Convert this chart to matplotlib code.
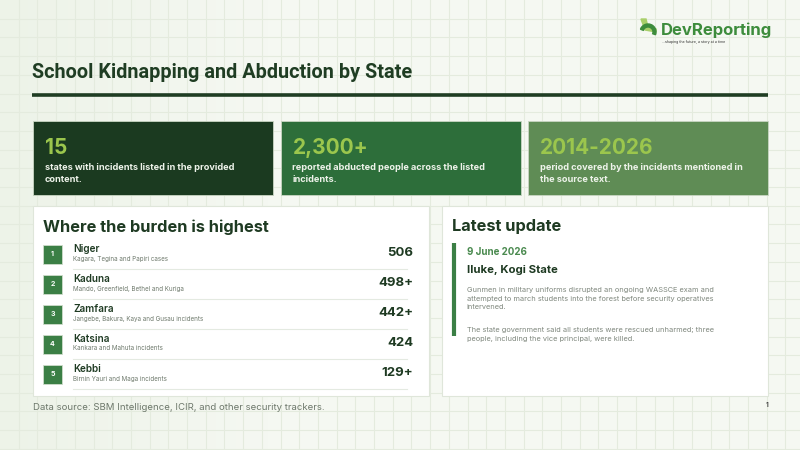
import matplotlib.pyplot as plt
import matplotlib.patches as patches
from matplotlib import font_manager
import numpy as np

# ---- data ----
stat_values = ["15", "2,300+", "2014-2026"]
stat_labels = ["states with incidents listed in the provided\ncontent.",
               "reported abducted people across the listed\nincidents.",
               "period covered by the incidents mentioned in\nthe source text."]
stat_colors = ["#1b3a20", "#2d6e3a", "#5f8c55"]

states = ["Niger", "Kaduna", "Zamfara", "Katsina", "Kebbi"]
state_notes = ["Kagara, Tegina and Papiri cases",
               "Mando, Greenfield, Bethel and Kuriga",
               "Jangebe, Bakura, Kaya and Gusau incidents",
               "Kankara and Mahuta incidents",
               "Birnin Yauri and Maga incidents"]
state_counts = ["506", "498+", "442+", "424", "129+"]

update_date = "9 June 2026"
update_place = "Iluke, Kogi State"
update_paras = ["Gunmen in military uniforms disrupted an ongoing WASSCE exam and\n"
                "attempted to march students into the forest before security operatives\n"
                "intervened.",
                "The state government said all students were rescued unharmed; three\n"
                "people, including the vice principal, were killed."]

title = "School Kidnapping and Abduction by State"
source = "Data source: SBM Intelligence, ICIR, and other security trackers."

names = {f.name for f in font_manager.fontManager.ttflist}
body = "Inter" if "Inter" in names else "DejaVu Sans"
narrow = "Liberation Sans Narrow" if "Liberation Sans Narrow" in names else "Roboto"

dark = "#1e3a22"
green = "#3b7f45"

fig = plt.figure(figsize=(8, 4.5), dpi=100)
ax = fig.add_axes([0, 0, 1, 1])
ax.set_xlim(0, 800)
ax.set_ylim(450, 0)
ax.axis("off")

# background gradient + grid
grad = np.linspace(0, 1, 200)
bg = np.zeros((2, 200, 3))
c0 = np.array([0xed, 0xf3, 0xe8]) / 255
c1 = np.array([0xf5, 0xf8, 0xf2]) / 255
for i, g in enumerate(grad):
    t = min(1, g * 3)
    bg[:, i, :] = c0 * (1 - t) + c1 * t
ax.imshow(bg, extent=[0, 800, 450, 0], aspect="auto", zorder=0)
for k in range(1, 43):
    ax.axvline(k * 18.7, color="#e4ebde", lw=0.8, zorder=1)
for k in range(1, 25):
    ax.axhline(k * 18.7, color="#e4ebde", lw=0.8, zorder=1)

# logo
ax.add_patch(patches.Polygon([[641, 19], [646, 19], [648, 27], [656, 29], [656, 32], [645, 30]],
                             closed=True, color="#a9cf6a", zorder=3))
ax.add_patch(patches.Wedge((648, 32), 8, 200, 20, width=3, color="#3d8c3c", zorder=3))
ax.text(661, 30, "DevReporting", fontsize=12, fontweight="bold", color="#3d8c3c",
        family=body, va="center", ha="left", zorder=4)
ax.text(662, 42.5, "...shaping the future, a story at a time", fontsize=2.6, color="#333333",
        family=body, va="center", ha="left", zorder=4)

# title
ax.text(32, 73, title, fontsize=14.3, fontweight="bold", color="#1f3d23",
        family=narrow, va="center", ha="left", zorder=4)
ax.plot([32, 768], [95, 95], color="#1f3d23", lw=2.6, solid_capstyle="butt", zorder=4)

# stat cards
card_x = [33, 280.5, 528]
for x0, val, lab, col in zip(card_x, stat_values, stat_labels, stat_colors):
    ax.add_patch(patches.Rectangle((x0, 120.5), 240, 74.5, facecolor=col,
                                   edgecolor="#c9d6c3", lw=0.6, zorder=3))
    ax.text(x0 + 12, 148, val, fontsize=15, fontweight="bold", color="#9bc64d",
            family=body, va="center", ha="left", zorder=4)
    ax.text(x0 + 12, 173.5, lab, fontsize=6.6, fontweight="bold", color="#eef3ea",
            family=body, va="center", ha="left", linespacing=1.4, zorder=4)

# panels
for x0, w in [(33, 396), (442, 326)]:
    ax.add_patch(patches.Rectangle((x0, 206), w, 189.5, facecolor="white",
                                   edgecolor="#dfe6da", lw=0.8, zorder=3))

ax.text(43, 227, "Where the burden is highest", fontsize=11.8, fontweight="bold",
        color=dark, family=body, va="center", ha="left", zorder=4)

row_y = 254
for i, (st, note, cnt) in enumerate(zip(states, state_notes, state_counts)):
    yc = row_y + i * 30
    ax.add_patch(patches.Rectangle((43, yc - 9.5), 19, 19, facecolor=green,
                                   edgecolor="#cfdccb", lw=0.6, zorder=4))
    ax.text(52.5, yc, str(i + 1), fontsize=5, fontweight="bold", color="white",
            family=body, va="center", ha="center", zorder=5)
    ax.text(73, yc - 5, st, fontsize=7.2, fontweight="semibold", color=dark,
            family=body, va="center", ha="left", zorder=5)
    ax.text(73, yc + 4.5, note, fontsize=4.5, color="#6f7a6d",
            family=body, va="center", ha="left", zorder=5)
    ax.text(413, yc - 1.5, cnt, fontsize=9.5, fontweight="bold", color=dark,
            family=body, va="center", ha="right", zorder=5)
    ax.plot([73, 407], [yc + 14.5, yc + 14.5], color="#e4eae1", lw=0.8, zorder=5)

ax.text(33, 407, source, fontsize=6.9, color="#6d786b", family=body,
        va="center", ha="left", zorder=4)

# latest update
ax.text(452, 227, "Latest update", fontsize=11.8, fontweight="bold",
        color=dark, family=body, va="center", ha="left", zorder=4)
ax.plot([454, 454], [243, 336], color=green, lw=3, solid_capstyle="butt", zorder=4)
ax.text(467, 252, update_date, fontsize=7, fontweight="bold", color="#4a8a4f",
        family=body, va="center", ha="left", zorder=4)
ax.text(467, 270, update_place, fontsize=8.2, fontweight="bold", color=dark,
        family=body, va="center", ha="left", zorder=4)
ax.text(467, 298.5, update_paras[0], fontsize=5.3, color="#7f877d", family=body,
        va="center", ha="left", linespacing=1.55, zorder=4)
ax.text(467, 334.5, update_paras[1], fontsize=5.3, color="#7f877d", family=body,
        va="center", ha="left", linespacing=1.55, zorder=4)

ax.text(767, 405, "1", fontsize=4.5, fontweight="bold", color="#444444",
        family=body, va="center", ha="center", zorder=4)

fig.savefig("out.png", dpi=100)
